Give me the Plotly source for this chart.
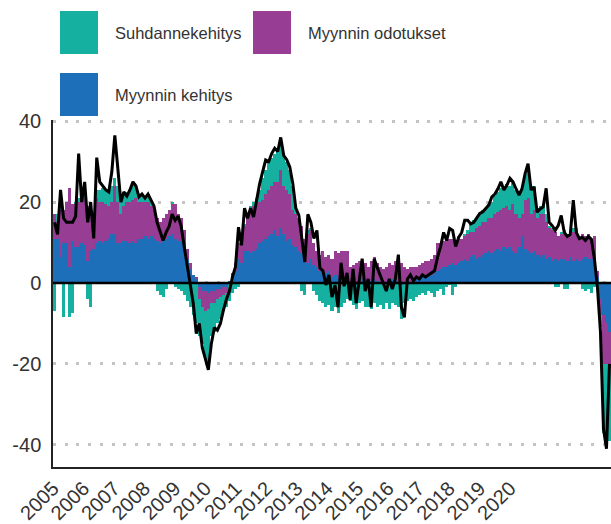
import plotly.graph_objects as go

# ---------------- data (monthly, Jan 2005 .. May 2020) ----------------
tick_labels = ["2005", "2006", "2007", "2008", "2009", "2010", "2011", "2012",
               "2013", "2014", "2015", "2016", "2017", "2018", "2019", "2020"]
tick_step_months = 10.1   # spacing of the year labels as drawn in the original

y_ticks = [-40, -20, 0, 20, 40]
y_tick_text = ["-40", "-20", "0", "20", "40"]

# black line: confidence indicator
indicator = [
    15, 12, 23, 16, 15, 15, 15, 16.5, 32, 20, 25, 15,
    20, 11, 31, 25, 24, 23, 22.5, 27.5, 36.5, 28, 20, 22.5,
    21.5, 23, 25, 24, 21.3, 22, 21, 22, 20.5, 19, 15, 13,
    10.5, 12.5, 14, 17, 15.5, 16.5, 14, 9, 4, 0, -5, -12.5,
    -10, -16, -19, -21.5, -15, -11, -11.7, -10, -6.7, -4, -2, 1.5,
    4, 13.8, 9.3, 18.5, 16, 18.5, 16.3, 20.5, 24.5, 27.5, 30.4, 30,
    32, 33.3, 32.5, 36, 31.5, 30.5, 28.7, 24.6, 18.5, 16.8, 10.6, 5.2,
    17, 15, 11, 13, 3.7, 3, -0.5, 2, -3.5, -0.5, -6, 5,
    -0.8, 2.5, -4.2, 3.5, -5, 0, 6, -2, 1, -6, 6, 3.8,
    2, 0, -2, 1, -1.5, 1, 7, -6, -8.5, 1, 2, 0.5,
    1.5, 1, 2, 1.5, 2, 2.5, 3, 6.4, 9, 12.5, 10.5, 13.5,
    13, 9, 11.3, 12.5, 15.5, 15.5, 14.6, 15, 16, 17.2, 17.6, 18.5,
    19.3, 21.3, 22, 23.3, 25, 23, 24.2, 25.9, 25, 23.3, 21.7, 23.3,
    27, 29.5, 23, 23.7, 17.5, 18.3, 18.8, 23.4, 15, 14.2, 13, 14.2,
    16.7, 12.5, 11.5, 12, 20.5, 12.5, 11, 11.3, 10.5, 11.5, 10.8, 6,
    -1, -12, -36, -41, -20,
]

# blue: Myynnin kehitys
myynnin_kehitys = [
    11, 11, 6.5, 10, 10, 4, 10.5, 9, 9, 10, 9.5, 5.5,
    8, 8.5, 10, 10.5, 10, 10.5, 11, 12, 12, 10, 10, 10.5,
    10.5, 10, 10.5, 10, 11, 11, 11.5, 11, 11.5, 11, 10.5, 10,
    12, 11, 11.5, 12, 11, 10.5, 10.5, 9, 6, 3.5, 2, 1,
    -1, -2, -2, -2.5, -2, -2, -1.5, -1.5, -1, -1, 0.5, 1.5,
    3, 6, 5, 8, 8, 7.5, 8, 8.5, 10, 10.5, 11, 11.5,
    12, 13, 11.5, 13.5, 12, 10.5, 11, 9.5, 9, 8, 7.5, 5.5,
    5, 6, 4.5, 4, 3, 3.5, 2.5, 3, 1.5, 2, 1, 1.5,
    1, 0.5, 0, 0.5, -0.5, 0.5, 1, 0, -0.5, 0.5, 1, 0.5,
    0, -0.5, 0, 0.5, 1, 0.5, 0, -0.5, 0, 0.5, 0, 0.5,
    1, 1, 1.5, 1.5, 1.5, 2, 2.5, 3, 3.5, 4, 4, 4.5,
    5, 4.5, 5, 5.5, 6, 5.5, 6.5, 7, 6, 6.5, 7, 7.5,
    8, 7.5, 8, 8.5, 8, 9, 8.5, 9, 8, 7.5, 9, 11.5,
    8.5, 8, 7.5, 8, 7, 6.5, 7, 6, 6.5, 5.5, 6, 5.5,
    6, 6, 5.5, 6.5, 5.5, 6, 5.5, 6, 6.5, 6, 6, 5.5,
    1.5, -4, -8, -10, -12,
]

# purple: Myynnin odotukset
myynnin_odotukset = [
    6, 4, 11.5, 8, 10, 19.5, 9, 10.5, 11, 10, 11.5, 13.5,
    10, 7.5, 11, 9.5, 10, 9, 8, 8, 12, 10, 7, 8.5,
    9.5, 10, 10, 11, 9, 9, 8.5, 9, 7.5, 7, 5.5, 5,
    4, 6, 6.5, 7.5, 8.5, 6.5, 5.5, 4, 2.5, 1.5, 0, 0.5,
    -3, -4, -5, -4, -3, -3, -2.5, -2, -2, -1.5, 0, 1,
    2, 4, 7, 6, 8, 10.5, 11, 11, 10, 10, 11, 11.5,
    12, 12, 13.5, 14.5, 12, 12.5, 11, 8.5, 8, 8, 6.5, 5.5,
    7, 7, 5.5, 4, 4, 4.5, 4, 4, 4.5, 6, 6.5, 6.5,
    7, 7.5, 4, 4, 5, 5, 4, 5, 4, 5, 5.5, 4.5,
    4, 3.5, 4, 4.5, 3.5, 5, 6, 5, 4, 3, 4, 3.5,
    3, 3.5, 3.5, 4, 4, 4, 4.5, 7, 6.5, 6.5, 6.5, 6.5,
    6, 6, 6, 5.5, 5.5, 6.5, 6, 5.5, 7.5, 7.5, 8, 7.5,
    8, 8.5, 9, 9, 10, 9.5, 10.5, 9, 11.5, 9.5, 7, 5.5,
    12, 13, 9.5, 10, 9, 10.5, 10, 9, 7, 7.5, 6.5, 6,
    6, 7, 6.5, 5, 7, 7, 5.5, 6, 5, 6, 5, 6,
    1.5, -4, -12, -10, -8,
]

# teal: Suhdannekehitys
suhdannekehitys = [
    -7, 2, 1, -8.5, 0, -8.5, -7.5, 0.5, 1, 0.5, 0.5, -4,
    -6, 1, 2, 3, 3.5, 3.5, 3.5, 4, 2, 4, 4.5, 3,
    2.5, 3, 4, 3, 1.5, 2, 1, 2, 1, 0, -2, -3,
    -3.5, -1.5, 0, 0.5, -1, -1.5, -2, -3, -4.5, -6, -8, -10,
    -9, -9, -12, -13.5, -8, -7, -6, -5.5, -4, -3.5, -4.5, -2.5,
    -1.5, -1, 0, 0.5, 1, 1, 1, 1.5, 3, 5.5, 6, 7,
    7, 7, 8, 7, 8, 7, 6, 6, 2, 0, -2, -3,
    1, 0.5, -2, -3, -4.5, -5, -6, -5.5, -7, -6, -7.5, -6,
    -5, -4, -4.5, -5.5, -6, -5, -4.5, -6, -5.5, -6.5, -5, -6,
    -5.5, -6, -5, -6.5, -5, -5.5, -6, -8.5, -5, -4.5, -4, -4.5,
    -3.5, -3, -2.5, -3, -2, -2.5, -3.5, -2, -1.5, -3, -1, -0.5,
    -3, -1, 0.5, 0, 0.5, 1, 2, 3, 2.5, 3, 3, 3.5,
    3.5, 4, 4.5, 5, 5.5, 5, 5.5, 6, 5.5, 6, 6, 6.5,
    6.5, 7, 7, 6, 2.5, 2, 2.5, 2, 0.5, 0.5, -1, -1,
    0.5, -1.5, -1.5, 0.5, 1, 0.5, 0, -1.5, -2, -1.5, -2.5, -1,
    -1, -3, -17, -20, -19,
]

# ---------------- styles ----------------
TEAL = "#15b09f"
PURPLE = "#973d94"
BLUE = "#1e6fba"
FONT = "Liberation Sans, Arial, sans-serif"
TXT = "#333333"

months = list(range(len(indicator)))

fig = go.Figure()
for name, vals, col in [("Myynnin kehitys", myynnin_kehitys, BLUE),
                        ("Myynnin odotukset", myynnin_odotukset, PURPLE),
                        ("Suhdannekehitys", suhdannekehitys, TEAL)]:
    fig.add_trace(go.Bar(x=months, y=vals, name=name, marker_color=col,
                         marker_line_width=0, showlegend=False))
fig.add_trace(go.Scatter(x=months, y=indicator, mode="lines",
                         line=dict(color="black", width=3), showlegend=False))

W, H = 611, 524
ML, MR, MT, MB = 53, 0, 120, 57
pw, ph = W - ML - MR, H - MT - MB


def px_x(x):
    return (x - ML) / pw


def px_y(y):
    return (H - MB - y) / ph


# legend drawn as big squares + text
legend_items = [("Suhdannekehitys", TEAL, 60, 11, 113, 33),
                ("Myynnin odotukset", PURPLE, 253, 11, 306, 33),
                ("Myynnin kehitys", BLUE, 60, 73, 113, 95)]
shapes = []
annotations = []
for label, col, sx, sy, tx, ty in legend_items:
    shapes.append(dict(type="rect", xref="paper", yref="paper",
                       x0=px_x(sx), x1=px_x(sx + 38), y0=px_y(sy + 43), y1=px_y(sy),
                       fillcolor=col, line=dict(width=0), layer="above"))
    annotations.append(dict(text=label, xref="paper", yref="paper",
                            x=px_x(tx), y=px_y(ty), xanchor="left", yanchor="middle",
                            showarrow=False, font=dict(family=FONT, size=16.5, color=TXT)))

# zero line above the bars
shapes.append(dict(type="line", xref="paper", yref="y", x0=0, x1=1, y0=0, y1=0,
                   line=dict(color="black", width=2.5), layer="above"))

fig.update_layout(
    width=W, height=H,
    margin=dict(l=ML, r=MR, t=MT, b=MB, pad=0),
    barmode="relative", bargap=0,
    plot_bgcolor="white", paper_bgcolor="white",
    showlegend=False,
    shapes=shapes, annotations=annotations,
    xaxis=dict(range=[-0.5, len(indicator) - 0.5],
               tickvals=[-0.5 + k * tick_step_months for k in range(len(tick_labels))],
               ticktext=tick_labels, tickangle=-45, ticks="",
               showgrid=False, zeroline=False,
               showline=True, linecolor="#222222", linewidth=1.5,
               tickfont=dict(family=FONT, size=20, color=TXT)),
    yaxis=dict(range=[-45.5, 40.3], tickvals=y_ticks, ticktext=y_tick_text, ticks="",
               showgrid=True, gridcolor="#c4c4c4", gridwidth=3, griddash="3px,8.7px",
               zeroline=False, showline=True, linecolor="#222222", linewidth=1.5,
               ticklabelstandoff=6,
               tickfont=dict(family=FONT, size=20, color=TXT)),
)

fig.write_html("out.html", config={"displayModeBar": False},
               post_script="document.body.style.margin='0';")
